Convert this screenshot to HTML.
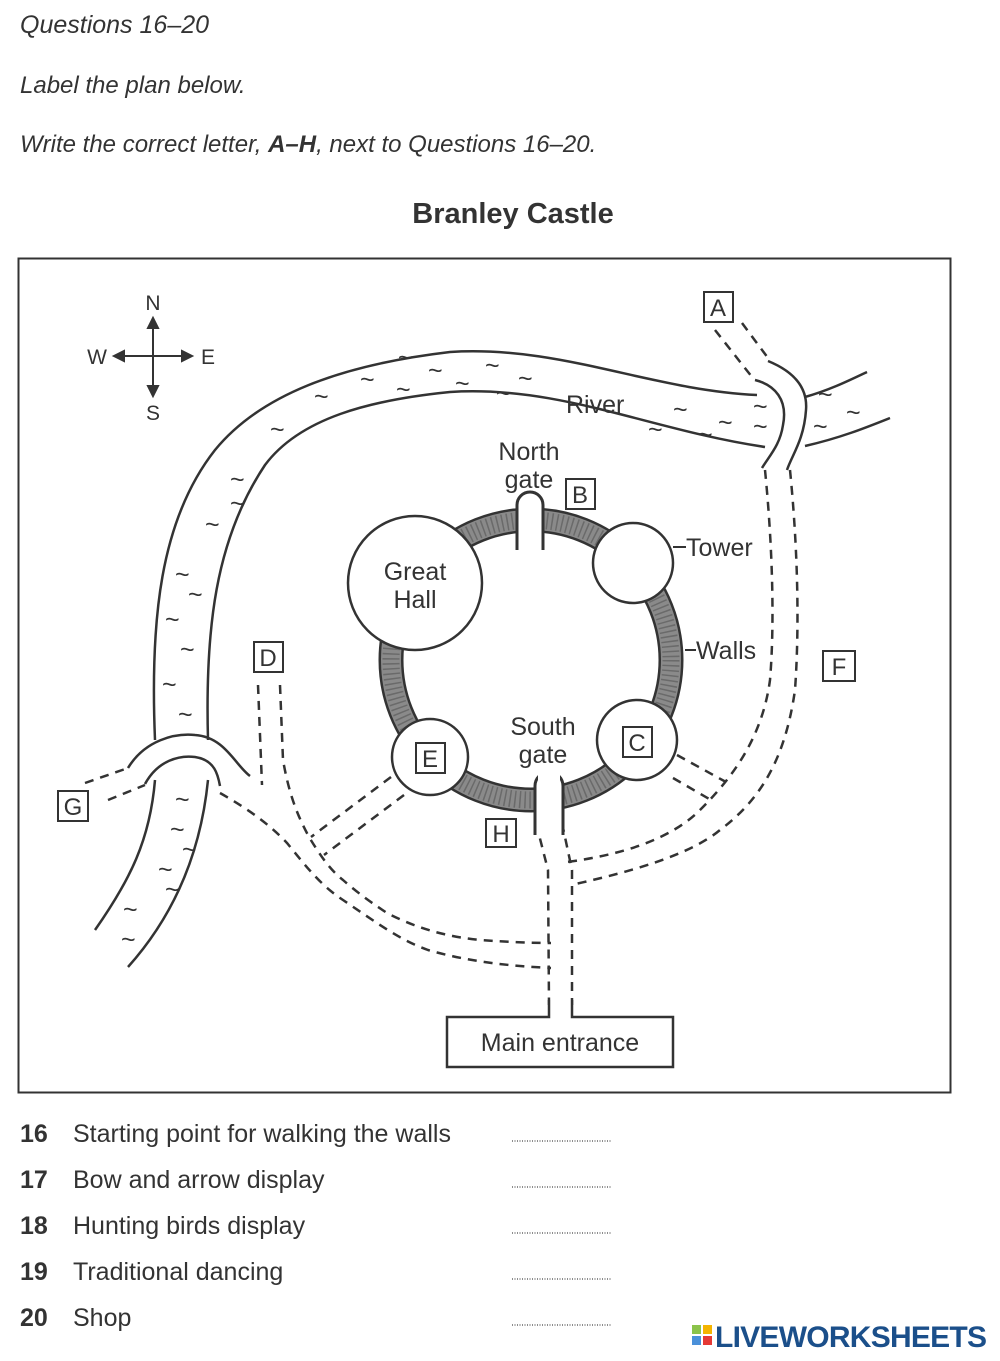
<!DOCTYPE html>
<html><head><meta charset="utf-8"><style>
body{margin:0;background:#fff;}
svg{display:block}
text{font-family:"Liberation Sans",sans-serif;fill:#333}
</style></head><body>
<svg width="1000" height="1361" viewBox="0 0 1000 1361" xmlns="http://www.w3.org/2000/svg">
<text x="20" y="33" font-size="25" font-style="italic">Questions 16–20</text>
<text x="20" y="93" font-size="24" font-style="italic">Label the plan below.</text>
<text x="20" y="152" font-size="24" font-style="italic">Write the correct letter, <tspan font-weight="bold">A–H</tspan>, next to Questions 16–20.</text>
<text x="513" y="223" font-size="29" font-weight="bold" text-anchor="middle">Branley Castle</text>
<rect x="18.5" y="258.5" width="932" height="834" fill="none" stroke="#333" stroke-width="2"/>

<g stroke="#333" stroke-width="2" fill="#333">
<line x1="153" y1="322" x2="153" y2="392"/><line x1="118" y1="356" x2="188" y2="356"/>
<path d="M153,318 l-5,10 h10z M153,396 l-5,-10 h10z M114,356 l10,-5 v10z M192,356 l-10,-5 v10z"/>
</g>
<text x="153" y="310" font-size="21" text-anchor="middle">N</text>
<text x="153" y="420" font-size="21" text-anchor="middle">S</text>
<text x="97" y="364" font-size="21" text-anchor="middle">W</text>
<text x="208" y="364" font-size="21" text-anchor="middle">E</text>

<g fill="none" stroke="#333" stroke-width="2.5">
<path d="M155,740 C150,620 160,520 215,450 C260,395 340,365 450,352 C560,345 650,390 757,395"/>
<path d="M208,740 C205,630 215,540 265,465 C300,418 370,400 450,392 C560,385 650,430 765,447"/>
<path d="M805,397 C830,390 850,380 867,372"/>
<path d="M805,446 C840,438 865,428 890,418"/>
<path d="M155,780 C150,840 130,880 95,930"/>
<path d="M208,780 C200,860 170,920 128,967"/>
<path d="M755,380 C775,385 788,400 783,425 C780,445 770,455 762,468"/>
<path d="M768,361 C790,370 808,385 806,410 C804,440 792,455 787,470"/>
<path d="M128,768 C145,740 175,733 195,735 C225,737 235,765 250,776"/>
<path d="M145,784 C158,760 180,755 195,757 C215,760 218,775 220,786"/>
</g>
<g font-size="25" fill="#444">
<text x="398" y="366">~</text><text x="428" y="379">~</text><text x="455" y="392">~</text><text x="485" y="374">~</text><text x="518" y="387">~</text><text x="396" y="398">~</text><text x="360" y="388">~</text><text x="314" y="405">~</text><text x="496" y="402">~</text>
<text x="270" y="438">~</text><text x="230" y="488">~</text><text x="205" y="533">~</text><text x="230" y="512">~</text><text x="175" y="583">~</text><text x="188" y="603">~</text><text x="165" y="628">~</text><text x="180" y="658">~</text><text x="162" y="693">~</text><text x="178" y="723">~</text>
<text x="175" y="808">~</text><text x="170" y="838">~</text><text x="182" y="858">~</text><text x="158" y="878">~</text><text x="165" y="898">~</text><text x="123" y="918">~</text><text x="121" y="948">~</text>
<text x="673" y="418">~</text><text x="718" y="431">~</text><text x="648" y="438">~</text><text x="698" y="443">~</text><text x="753" y="415">~</text><text x="753" y="435">~</text><text x="818" y="403">~</text><text x="846" y="421">~</text><text x="813" y="435">~</text>
</g>
<text x="566" y="413" font-size="25">River</text>

<g fill="none" stroke="#333" stroke-width="2.5" stroke-dasharray="9,7">
<path d="M715,330 L752,377"/><path d="M742,323 L768,358"/>
<path d="M765,470 C772,540 775,620 770,680 C762,740 730,780 700,810 C670,840 620,855 567,862"/>
<path d="M790,470 C797,540 800,620 795,690 C785,760 760,800 720,830 C690,855 630,872 571,885"/>
<path d="M677,755 L726,782"/><path d="M673,778 L711,800"/>
<path d="M536,823 L548,870 L549,1005"/><path d="M562,823 L572,870 L572,1005"/>
<path d="M220,793 C250,810 270,825 287,843 C305,865 320,885 343,900 C380,925 400,940 428,950 C470,962 510,966 551,968"/>
<path d="M280,685 L283,760 C290,800 300,820 309,837 C320,855 330,870 343,880 C360,895 375,905 387,913 C420,930 450,937 480,940 C510,942 530,943 551,943"/>
<path d="M258,685 L262,785"/>
<path d="M391,777 L311,837"/><path d="M404,795 L324,855"/>
<path d="M85,783 L128,768"/><path d="M108,800 L145,785"/>
</g>
<path d="M549,1000 V1017 H447 V1067 H673 V1017 H572 V1000" fill="#fff" stroke="#333" stroke-width="2.5"/>
<text x="560" y="1051" font-size="25" text-anchor="middle">Main entrance</text>

<circle cx="531" cy="660" r="140" fill="none" stroke="#333" stroke-width="25"/>
<circle cx="531" cy="660" r="140" fill="none" stroke="#8a8a8a" stroke-width="20"/>
<circle cx="531" cy="660" r="140" fill="none" stroke="#6a6a6a" stroke-width="17" stroke-dasharray="1.5,3.5"/>
<path d="M517,550 V505 A13,13 0 0 1 543,505 V550" fill="#fff" stroke="#333" stroke-width="3"/>
<rect x="520" y="520" width="20" height="40" fill="#fff"/>
<path d="M535,835 V786 A14,14 0 0 1 563,786 V835" fill="#fff" stroke="#333" stroke-width="3"/>
<rect x="538" y="770" width="22" height="30" fill="#fff"/>
<g fill="#fff" stroke="#333" stroke-width="2.5">
<circle cx="415" cy="583" r="67"/>
<circle cx="633" cy="563" r="40"/>
<circle cx="430" cy="757" r="38"/>
<circle cx="637" cy="740" r="40"/>
</g>
<text x="415" y="580" font-size="25" text-anchor="middle">Great</text>
<text x="415" y="608" font-size="25" text-anchor="middle">Hall</text>
<text x="529" y="460" font-size="25" text-anchor="middle">North</text>
<text x="529" y="488" font-size="25" text-anchor="middle">gate</text>
<text x="543" y="735" font-size="25" text-anchor="middle">South</text>
<text x="543" y="763" font-size="25" text-anchor="middle">gate</text>
<line x1="673" y1="547" x2="686" y2="547" stroke="#333" stroke-width="2"/>
<text x="686" y="556" font-size="25">Tower</text>
<line x1="685" y1="650" x2="696" y2="650" stroke="#333" stroke-width="2"/>
<text x="696" y="659" font-size="25">Walls</text>

<g fill="#fff" stroke="#333" stroke-width="2">
<rect x="704" y="292" width="29" height="30"/>
<rect x="566" y="479" width="29" height="30"/>
<rect x="254" y="642" width="29" height="30"/>
<rect x="823" y="651" width="32" height="30"/>
<rect x="58" y="791" width="30" height="30"/>
<rect x="623" y="727" width="29" height="30"/>
<rect x="416" y="743" width="29" height="30"/>
<rect x="486" y="819" width="30" height="28"/>
</g>
<g font-size="24" text-anchor="middle">
<text x="718" y="316">A</text><text x="580" y="503">B</text><text x="268" y="666">D</text><text x="839" y="675">F</text>
<text x="73" y="815">G</text><text x="637" y="751">C</text><text x="430" y="767">E</text><text x="501" y="842">H</text>
</g>

<g font-size="25">
<text x="20" y="1142" font-weight="bold">16</text><text x="73" y="1142">Starting point for walking the walls</text>
<text x="20" y="1188" font-weight="bold">17</text><text x="73" y="1188">Bow and arrow display</text>
<text x="20" y="1234" font-weight="bold">18</text><text x="73" y="1234">Hunting birds display</text>
<text x="20" y="1280" font-weight="bold">19</text><text x="73" y="1280">Traditional dancing</text>
<text x="20" y="1326" font-weight="bold">20</text><text x="73" y="1326">Shop</text>
</g>
<g stroke="#666" stroke-width="1.5" stroke-dasharray="1,1.5">
<line x1="512" y1="1141" x2="612" y2="1141"/><line x1="512" y1="1187" x2="612" y2="1187"/>
<line x1="512" y1="1233" x2="612" y2="1233"/><line x1="512" y1="1279" x2="612" y2="1279"/>
<line x1="512" y1="1325" x2="612" y2="1325"/>
</g>
<rect x="692" y="1325" width="9" height="9" fill="#8bc34a"/><rect x="703" y="1325" width="9" height="9" fill="#f4b400"/>
<rect x="692" y="1336" width="9" height="9" fill="#4a90d9"/><rect x="703" y="1336" width="9" height="9" fill="#e53935"/>
<text x="715" y="1347" font-size="30" font-weight="bold" textLength="272" style="fill:#1b4f8a">LIVEWORKSHEETS</text>
</svg>
</body></html>
